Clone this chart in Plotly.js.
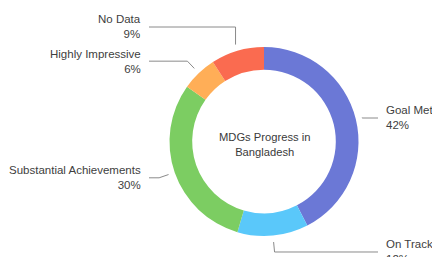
<!DOCTYPE html>
<html>
<head>
<meta charset="utf-8">
<script src="https://cdn.plot.ly/plotly-3.0.1.min.js"></script>
<style>html,body{margin:0;padding:0;background:#fff;}#chart{width:432px;height:257px;}</style>
</head>
<body>
<div id="chart"></div>
<script>
// Data
const categories = ["Goal Met", "On Track", "Substantial Achievements", "Highly Impressive", "No Data"];
const values = [42, 12, 30, 6, 9];
const colors = ["#6B78D6", "#5AC8FA", "#7CCD62", "#FFAE57", "#FA6B50"];
const centerTitle = "MDGs Progress in<br>Bangladesh";

// Layout geometry
const W = 432, H = 257;
const cx = 264, cy = 141.5, R = 94.5, hole = 0.76;
const r0 = R + 6.5, r1 = R + 16.5;
const rightLabelX = 384, leftLabelX = 143;
const labelYOverride = {"Goal Met": 118, "No Data": 27};

const total = values.reduce((a, b) => a + b, 0);
const shapes = [];
const annotations = [];
let cum = 0;
const lineColor = "#8a8a8a";
const fontFamily = "Liberation Sans, Arial, Helvetica, sans-serif";

categories.forEach((cat, i) => {
  const mid = (cum + values[i] / 2) / total * 2 * Math.PI;
  cum += values[i];
  const sx = Math.sin(mid), cy_ = Math.cos(mid);
  const p0 = [cx + r0 * sx, cy - r0 * cy_];
  let p1 = [cx + r1 * sx, cy - r1 * cy_];
  if (labelYOverride[cat] !== undefined) {
    p1 = [p0[0], labelYOverride[cat]];
  }
  const right = sx > 0;
  const endX = right ? rightLabelX - 6 : leftLabelX + 6;
  const toPaperX = x => x / W;
  const toPaperY = y => 1 - y / H;
  const path = "M " + p0[0] + "," + p0[1] + " L " + p1[0] + "," + p1[1] + " L " + endX + "," + p1[1];
  shapes.push({type: "path", xref: "paper", yref: "paper", path: path.replace(/([\d.]+),([\d.]+)/g, (m, a, b) => toPaperX(+a) + "," + toPaperY(+b)), line: {color: lineColor, width: 1}});
  const pct = Math.round(values[i]) + "%";
  annotations.push({
    xref: "paper", yref: "paper",
    x: toPaperX(right ? rightLabelX : leftLabelX),
    y: toPaperY(p1[1]),
    xanchor: right ? "left" : "right",
    yanchor: "middle",
    align: right ? "left" : "right",
    text: cat + "<br>" + pct,
    showarrow: false,
    font: {family: fontFamily, size: 11.5, color: "#404040"}
  });
});

annotations.push({
  xref: "paper", yref: "paper",
  x: cx / W, y: 1 - 144 / H,
  xanchor: "center", yanchor: "middle", align: "center",
  text: centerTitle, showarrow: false,
  font: {family: fontFamily, size: 11.2, color: "#3a3a3a"}
});

const trace = {
  type: "pie",
  labels: categories,
  values: values,
  marker: {colors: colors, line: {width: 0}},
  hole: hole,
  sort: false,
  direction: "clockwise",
  rotation: 0,
  textinfo: "none",
  hoverinfo: "label+percent",
  domain: {x: [(cx - R) / W, (cx + R) / W], y: [1 - (cy + R) / H, 1 - (cy - R) / H]},
  showlegend: false
};

const layout = {
  width: W, height: H,
  margin: {l: 0, r: 0, t: 0, b: 0},
  paper_bgcolor: "#ffffff",
  showlegend: false,
  shapes: shapes,
  annotations: annotations
};

Plotly.newPlot("chart", [trace], layout, {displayModeBar: false, staticPlot: true});
</script>
</body>
</html>
